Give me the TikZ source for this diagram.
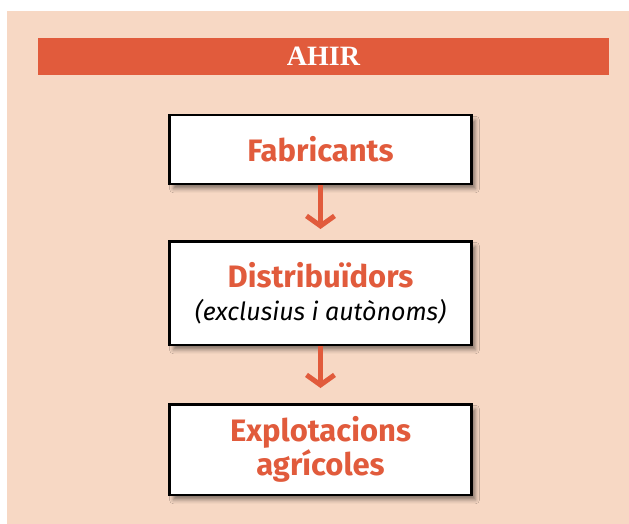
\documentclass[tikz,border=0pt]{standalone}
\usepackage{fontspec}
\setmainfont{Fira Sans}
\newfontfamily\titlefont{Liberation Serif}
\usetikzlibrary{arrows.meta,shadows.blur}

\definecolor{ahirorange}{RGB}{225,91,60}
\definecolor{ahirbg}{RGB}{247,216,196}

\tikzset{
	stepbox/.style = {draw=black, line width=2.5pt, fill=white, minimum width=302pt,
		align=center, text=ahirorange, font=\bfseries\fontsize{31}{30}\selectfont,
		blur shadow={shadow xshift=4pt, shadow yshift=-5pt, shadow blur radius=4pt, shadow opacity=45}},
	flow/.style = {draw=ahirorange, line width=5pt, -{Straight Barb[length=10pt,width=28pt]}}
}

\begin{document}
\begin{tikzpicture}[x=1pt, y=-1pt]
	\useasboundingbox (0,0) rectangle (629,524);
	\fill[ahirbg] (7,11) rectangle (629,524);
	% title bar
	\node [fill=ahirorange, minimum width=571pt, minimum height=37pt, inner sep=0pt, text=white,
		font=\titlefont\bfseries\fontsize{28}{28}\selectfont] (ahir) at (323.5,56.5) {AHIR};
	% steps
	\node [stepbox, minimum height=68.5pt] (fabricants) at (320.5,149.5) {Fabricants};
	\node [stepbox, minimum height=103.5pt] (distribuidors) at (320.5,293) {Distribuïdors\\[3pt]
		{\mdseries\itshape\color{black}\fontsize{25}{26}\selectfont (exclusius i autònoms)}};
	\node [stepbox, minimum height=90.5pt] (explotacions) at (320.5,449.5) {Explotacions\\agrícoles};
	% arrows
	\draw [flow, shorten >=11pt] (fabricants) -- (distribuidors);
	\draw [flow, shorten >=15pt] (distribuidors) -- (explotacions);
\end{tikzpicture}
\end{document}
